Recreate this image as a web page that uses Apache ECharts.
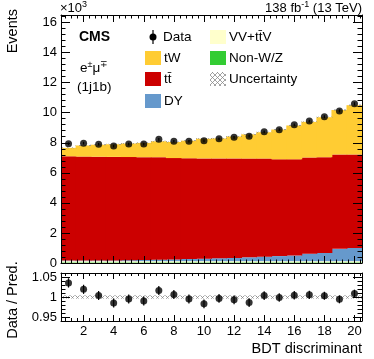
<!DOCTYPE html>
<html>
<head>
<meta charset="utf-8">
<script src="https://cdn.jsdelivr.net/npm/echarts@6/dist/echarts.min.js"></script>
<style>
html, body { margin: 0; padding: 0; background: #fff; }
#chart { width: 374px; height: 359px; }
</style>
</head>
<body>
<div id="chart"></div>
<script>
// BDT discriminant bins (centres)
const bins = [1, 2, 3, 4, 5, 6, 7, 8, 9, 10, 11, 12, 13, 14, 15, 16, 17, 18, 19, 20]
const dataObs = [7930, 7970, 7900, 7780, 7910, 7910, 8230, 8100, 8100, 8130, 8260, 8360, 8440, 8730, 8870, 9190, 9440, 9730, 10120, 10590]
const tW = [560, 740, 800, 840, 900, 950, 1060, 1070, 1170, 1310, 1330, 1460, 1610, 1750, 1980, 2250, 2370, 2660, 2960, 3280]
const ttbar = [6940, 6920, 6900, 6890, 6860, 6840, 6820, 6740, 6700, 6670, 6640, 6620, 6570, 6530, 6440, 6400, 6400, 6370, 6280, 6220]
const dy = [40, 40, 50, 50, 70, 80, 100, 120, 150, 170, 200, 220, 260, 300, 340, 380, 500, 550, 820, 880]
const vvttv = [80, 80, 80, 80, 80, 80, 80, 80, 80, 80, 80, 80, 80, 80, 80, 80, 80, 80, 80, 80]
const nonWZ = [40, 40, 40, 40, 40, 40, 40, 40, 40, 40, 40, 40, 40, 40, 40, 40, 40, 40, 40, 40]
const uncRel = [0.004, 0.004, 0.004, 0.004, 0.004, 0.004, 0.004, 0.004, 0.004, 0.004, 0.004, 0.004, 0.004, 0.004, 0.004, 0.004, 0.004, 0.004, 0.004, 0.004]

// tick labels
const xLabels = [2, 4, 6, 8, 10, 12, 14, 16, 18, 20]
const yLabels = [0, 2000, 4000, 6000, 8000, 10000, 12000, 14000, 16000]
const rLabels = [0.95, 1, 1.05]

const FONT = 'Liberation Sans, Arial, sans-serif'

function minorTicks (from, to, step, majors) {
  const out = []
  for (let v = from; v <= to + 1e-9; v += step) {
    const r = Math.round(v * 1000) / 1000
    if (!majors.some(m => Math.abs(m - r) < 1e-6)) out.push(r)
  }
  return out
}
const xMinor = minorTicks(0.8, 20.4, 0.4, xLabels)
const yMinor = minorTicks(400, 16400, 400, yLabels)
const rMinor = minorTicks(0.94, 1.06, 0.01, rLabels)

// hatch for the uncertainty band
const hatch = document.createElement('canvas')
hatch.width = 5
hatch.height = 5
const hctx = hatch.getContext('2d')
hctx.strokeStyle = '#8a8a8a'
hctx.lineWidth = 0.8
hctx.beginPath()
hctx.moveTo(0, 0); hctx.lineTo(5, 5)
hctx.moveTo(0, 5); hctx.lineTo(5, 0)
hctx.stroke()
const hatchFill = { image: hatch, repeat: 'repeat' }

const total = bins.map((b, i) => tW[i] + ttbar[i] + dy[i] + vvttv[i] + nonWZ[i])
const ratio = bins.map((b, i) => dataObs[i] / total[i])

function tickAxis (gridIndex, position, min, max, ticks, len, line, labels, fmt) {
  return {
    type: 'value',
    gridIndex: gridIndex,
    position: position,
    min: min,
    max: max,
    z: 10,
    axisLine: { show: line, onZero: false, lineStyle: { color: '#000', width: 1 } },
    axisTick: { show: true, inside: true, length: len, customValues: ticks, lineStyle: { color: '#000', width: 1 } },
    axisLabel: labels
      ? { show: true, customValues: labels, formatter: fmt, color: '#000', fontSize: 13, fontFamily: FONT, margin: 4 }
      : { show: false },
    splitLine: { show: false },
    minorTick: { show: false }
  }
}

// hidden category axis that carries the bins
function binAxis (gridIndex) {
  return {
    type: 'category',
    gridIndex: gridIndex,
    position: 'bottom',
    data: bins.map(String),
    boundaryGap: true,
    axisLine: { show: false },
    axisTick: { show: false },
    axisLabel: { show: false },
    splitLine: { show: false }
  }
}

const rFmt = v => (Math.abs(v - 1) < 1e-6 ? '1' : v.toFixed(2))

const xAxes = [
  binAxis(0),
  tickAxis(0, 'bottom', 0.5, 20.5, xLabels, 7, true),
  tickAxis(0, 'top', 0.5, 20.5, xLabels, 7, true),
  tickAxis(0, 'bottom', 0.5, 20.5, xMinor, 3.5, false),
  tickAxis(0, 'top', 0.5, 20.5, xMinor, 3.5, false),
  binAxis(1),
  tickAxis(1, 'bottom', 0.5, 20.5, xLabels, 6, true, xLabels, v => String(v)),
  tickAxis(1, 'top', 0.5, 20.5, xLabels, 6, true),
  tickAxis(1, 'bottom', 0.5, 20.5, xMinor, 3, false),
  tickAxis(1, 'top', 0.5, 20.5, xMinor, 3, false)
]
const yAxes = [
  tickAxis(0, 'left', 0, 16500, yLabels, 9, true, yLabels, v => String(v / 1000)),
  tickAxis(0, 'right', 0, 16500, yLabels, 9, true),
  tickAxis(0, 'left', 0, 16500, yMinor, 4.5, false),
  tickAxis(0, 'right', 0, 16500, yMinor, 4.5, false),
  tickAxis(1, 'left', 0.94, 1.06, rLabels, 9, true, rLabels, rFmt),
  tickAxis(1, 'right', 0.94, 1.06, rLabels, 9, true),
  tickAxis(1, 'left', 0.94, 1.06, rMinor, 4.5, false),
  tickAxis(1, 'right', 0.94, 1.06, rMinor, 4.5, false)
]

function bar (xi, yi, stack, values, color) {
  return {
    type: 'bar',
    xAxisIndex: xi,
    yAxisIndex: yi,
    stack: stack,
    barWidth: '106%',
    barGap: '-100%',
    itemStyle: { color: color },
    silent: true,
    data: values
  }
}

function errorBars (xi, yi, rows) {
  return {
    type: 'custom',
    xAxisIndex: xi,
    yAxisIndex: yi,
    z: 5,
    clip: true,
    renderItem: function (params, api) {
      const p1 = api.coord([api.value(0), api.value(1)])
      const p2 = api.coord([api.value(0), api.value(2)])
      return {
        type: 'line',
        shape: { x1: p1[0], y1: p1[1], x2: p2[0], y2: p2[1] },
        style: { stroke: '#000', lineWidth: 1.2 }
      }
    },
    data: rows
  }
}

const series = [
  bar(0, 0, 'mc', nonWZ, '#33cc33'),
  bar(0, 0, 'mc', vvttv, '#ffffcc'),
  bar(0, 0, 'mc', dy, '#6699cc'),
  bar(0, 0, 'mc', ttbar, '#cc0000'),
  bar(0, 0, 'mc', tW, '#ffcc33'),
  bar(0, 0, 'unc', total.map((t, i) => t * (1 - uncRel[i])), 'rgba(0,0,0,0)'),
  bar(0, 0, 'unc', total.map((t, i) => t * 2 * uncRel[i]), hatchFill),
  errorBars(0, 0, bins.map((b, i) => [i, dataObs[i] - Math.sqrt(dataObs[i]), dataObs[i] + Math.sqrt(dataObs[i])])),
  {
    type: 'scatter', xAxisIndex: 0, yAxisIndex: 0, z: 6,
    symbol: 'circle', symbolSize: 7, itemStyle: { color: '#000' },
    data: dataObs
  },
  bar(5, 4, 'runc', uncRel.map(u => 1 - u), 'rgba(0,0,0,0)'),
  bar(5, 4, 'runc', uncRel.map(u => 2 * u), hatchFill),
  errorBars(5, 4, bins.map((b, i) => [i, ratio[i] - Math.sqrt(dataObs[i]) / total[i], ratio[i] + Math.sqrt(dataObs[i]) / total[i]])),
  {
    type: 'scatter', xAxisIndex: 5, yAxisIndex: 4, z: 6,
    symbol: 'circle', symbolSize: 7, itemStyle: { color: '#000' },
    data: ratio
  }
]

const txt = (x, y, text, extra) => ({
  type: 'text', x: x, y: y, z: 20,
  style: Object.assign({ text: text, fill: '#000', font: '13.5px ' + FONT, verticalAlign: 'middle' }, extra || {})
})
const box = (x, y, color) => ({
  type: 'rect', z: 20, shape: { x: x, y: y, width: 16, height: 14 }, style: { fill: color }
})
const sup = { sup: { fontSize: 9, verticalAlign: 'top', padding: [0, 0, 7, 0], fontFamily: FONT } }

const graphics = [
  {
    type: 'text', x: 13, y: 9, rotation: Math.PI / 2, z: 20,
    style: { text: 'Events', fill: '#000', font: '14.5px ' + FONT, align: 'right', verticalAlign: 'middle' }
  },
  {
    type: 'text', x: 13, y: 300, rotation: Math.PI / 2, z: 20,
    style: { text: 'Data / Pred.', fill: '#000', font: '14.5px ' + FONT, align: 'center', verticalAlign: 'middle' }
  },
  txt(60, 8, '×10{sup|3}', { font: '13px ' + FONT, rich: sup }),
  txt(362, 8, '138 fb{sup|-1} (13 TeV)', { align: 'right', font: '13px ' + FONT, rich: sup }),
  txt(79, 37, 'CMS', { font: 'bold 14px ' + FONT }),
  txt(80, 68, 'e{sup|±}μ{sup|∓}', { font: '13.5px ' + FONT, rich: sup }),
  txt(77, 87, '(1j1b)', { font: '13.5px ' + FONT }),
  txt(362, 349, 'BDT discriminant', { align: 'right', font: '14.5px ' + FONT }),
  // legend
  { type: 'line', z: 20, shape: { x1: 153, y1: 30, x2: 153, y2: 44 }, style: { stroke: '#000', lineWidth: 1.2 } },
  { type: 'circle', z: 20, shape: { cx: 153, cy: 37, r: 3.5 }, style: { fill: '#000' } },
  txt(163, 37, 'Data'),
  box(145, 51, '#ffcc33'), txt(164, 58, 'tW'),
  box(145, 72, '#cc0000'), txt(164, 79, 'tt̄'),
  box(145, 94, '#6699cc'), txt(164, 101, 'DY'),
  box(210, 30, '#ffffcc'), txt(229, 37, 'VV+tt̄V'),
  box(210, 51, '#33cc33'), txt(229, 58, 'Non-W/Z'),
  box(210, 72, hatchFill), txt(229, 79, 'Uncertainty')
]

const myChart = echarts.init(document.getElementById('chart'))
myChart.setOption({
  animation: false,
  backgroundColor: '#fff',
  textStyle: { fontFamily: FONT },
  grid: [
    { left: 61, right: 12, top: 15, height: 248 },
    { left: 61, right: 12, top: 273, height: 48 }
  ],
  xAxis: xAxes,
  yAxis: yAxes,
  series: series,
  graphic: graphics
})
window.onresize = myChart.resize
</script>
</body>
</html>
